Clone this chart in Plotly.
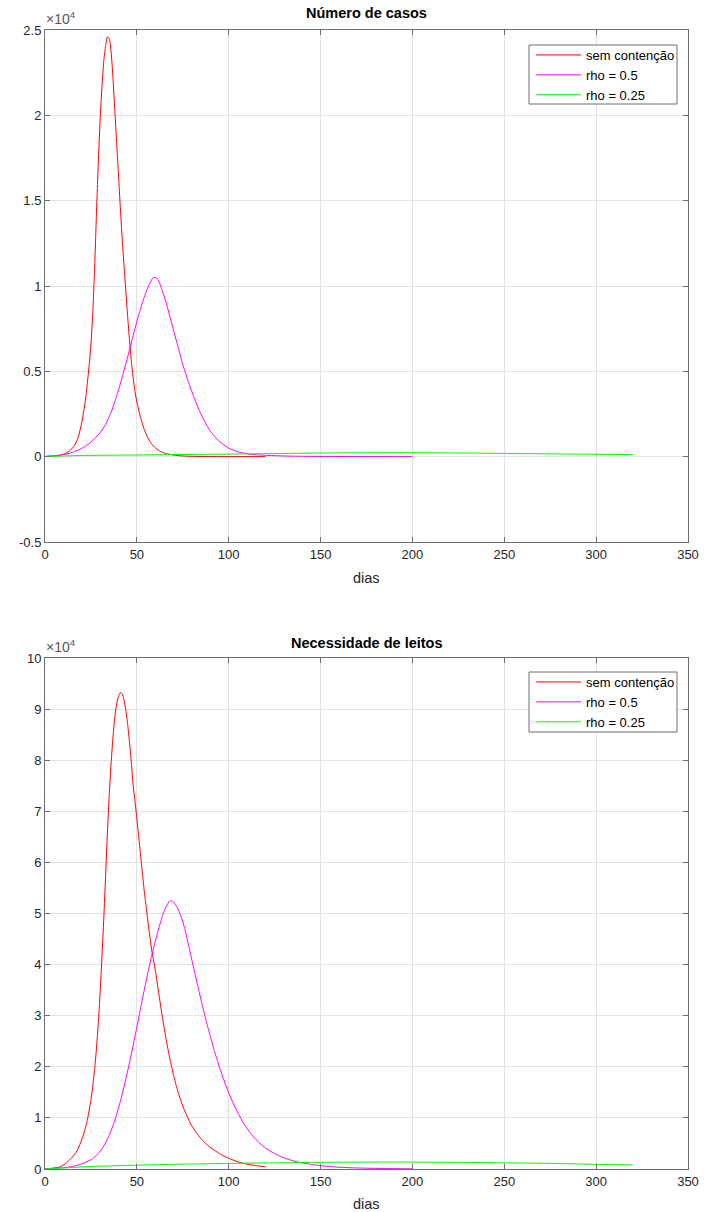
import plotly.graph_objects as go

SCALE = 1e4  # values below are read in units of 10^4

# ---------- Top panel: "Número de casos" ----------
casos_sem_x = [0, 4, 8, 11, 14, 16, 18, 20, 22, 24, 25, 26, 27, 28, 29, 30, 31, 32, 33, 34, 35, 36,
               37, 38, 39, 40, 41, 42, 43, 44, 45, 46, 47, 48, 49, 50, 52, 54, 56, 58, 60, 63, 66, 70,
               75, 80, 90, 100, 120]
casos_sem_y = [0.001, 0.003, 0.008, 0.018, 0.04, 0.065, 0.11, 0.20, 0.33, 0.53, 0.66, 0.84, 1.10, 1.42,
               1.72, 1.97, 2.17, 2.32, 2.41, 2.46, 2.45, 2.37, 2.22, 2.03, 1.84, 1.65, 1.46, 1.28, 1.12,
               0.97, 0.82, 0.68, 0.56, 0.46, 0.38, 0.32, 0.23, 0.16, 0.11, 0.075, 0.052, 0.03, 0.018,
               0.009, 0.004, 0.002, 0.0008, 0.0004, 0.0002]

casos_r05_x = [0, 5, 10, 15, 20, 25, 30, 33, 36, 39, 42, 45, 48, 51, 54, 57, 59, 61, 63, 66, 69, 72,
               75, 78, 81, 84, 87, 90, 93, 96, 100, 105, 110, 115, 120, 130, 140, 160, 200]
casos_r05_y = [0.002, 0.005, 0.012, 0.025, 0.048, 0.085, 0.14, 0.19, 0.26, 0.355, 0.465, 0.585, 0.71,
               0.83, 0.935, 1.015, 1.05, 1.045, 1.00, 0.90, 0.78, 0.66, 0.54, 0.44, 0.35, 0.27, 0.205,
               0.15, 0.11, 0.08, 0.05, 0.028, 0.017, 0.011, 0.008, 0.004, 0.002, 0.001, 0.0003]

casos_r025_x = [0, 10, 20, 40, 60, 80, 100, 130, 160, 190, 220, 250, 280, 300, 320]
casos_r025_y = [0.0005, 0.004, 0.007, 0.009, 0.011, 0.013, 0.015, 0.019, 0.022, 0.023, 0.022, 0.019,
                0.016, 0.014, 0.012]

# ---------- Bottom panel: "Necessidade de leitos" ----------
leitos_sem_x = [0, 4, 8, 11, 14, 17, 19, 21, 23, 25, 26, 27, 28, 29, 30, 31, 32, 33, 34, 35, 36, 37,
                38, 39, 40, 41, 42, 43, 44, 45, 46, 47, 48, 49, 50, 51, 52, 53, 54, 55, 56, 58, 60, 62,
                64, 66, 68, 70, 72, 74, 76, 78, 80, 83, 86, 89, 92, 96, 100, 105, 110, 115, 120]
leitos_sem_y = [0.005, 0.015, 0.04, 0.10, 0.20, 0.33, 0.48, 0.68, 0.95, 1.35, 1.62, 1.95, 2.35, 2.85,
                3.45, 4.15, 4.90, 5.75, 6.60, 7.35, 7.95, 8.45, 8.85, 9.10, 9.25, 9.32, 9.30, 9.18,
                8.98, 8.70, 8.35, 7.95, 7.50, 7.20, 6.85, 6.50, 6.15, 5.80, 5.45, 5.15, 4.85, 4.30,
                3.90, 3.42, 2.95, 2.52, 2.15, 1.83, 1.56, 1.33, 1.14, 0.98, 0.84, 0.68, 0.55, 0.45,
                0.37, 0.28, 0.21, 0.14, 0.095, 0.065, 0.045]

leitos_r05_x = [0, 5, 10, 15, 20, 25, 29, 32, 35, 38, 41, 44, 46, 48, 50, 52, 54, 56, 58, 60, 62, 64,
                66, 68, 70, 72, 74, 76, 78, 80, 82, 84, 86, 88, 90, 92, 94, 96, 98, 100, 102, 105, 108,
                111, 114, 117, 120, 124, 128, 132, 136, 140, 145, 150, 160, 170, 185, 200]
leitos_r05_y = [0.005, 0.012, 0.025, 0.05, 0.10, 0.18, 0.30, 0.45, 0.66, 0.95, 1.32, 1.76, 2.08, 2.42,
                2.78, 3.14, 3.50, 3.84, 4.16, 4.45, 4.72, 4.96, 5.14, 5.25, 5.22, 5.12, 4.95, 4.71, 4.40,
                4.08, 3.76, 3.45, 3.15, 2.86, 2.59, 2.34, 2.10, 1.88, 1.68, 1.49, 1.32, 1.10, 0.90, 0.74,
                0.61, 0.50, 0.41, 0.32, 0.25, 0.195, 0.15, 0.12, 0.09, 0.065, 0.035, 0.02, 0.009, 0.004]

leitos_r025_x = [0, 10, 20, 35, 50, 75, 100, 125, 150, 175, 200, 225, 250, 275, 300, 320]
leitos_r025_y = [0.002, 0.02, 0.04, 0.06, 0.075, 0.095, 0.11, 0.12, 0.13, 0.135, 0.135, 0.13, 0.12,
                 0.11, 0.09, 0.08]

series_names = ["sem contenção", "rho = 0.5", "rho = 0.25"]
series_colors = ["#ff0000", "#ff00ff", "#00ff00"]

x_ticks = [0, 50, 100, 150, 200, 250, 300, 350]
top_y_ticks = [-0.5, 0, 0.5, 1, 1.5, 2, 2.5]
top_y_labels = ["-0.5", "0", "0.5", "1", "1.5", "2", "2.5"]
bot_y_ticks = [0, 1, 2, 3, 4, 5, 6, 7, 8, 9, 10]
bot_y_labels = [str(v) for v in bot_y_ticks]

W, H = 705, 1212
FONT = "Liberation Sans, Arial, Helvetica, sans-serif"
TXT = "#262626"
AX = "#6e6e6e"
GRID = "#e3e3e3"


def px_x(p):
    return p / W


def px_y(p):
    return 1 - p / H


fig = go.Figure()

top_data = [(casos_sem_x, casos_sem_y), (casos_r05_x, casos_r05_y), (casos_r025_x, casos_r025_y)]
bot_data = [(leitos_sem_x, leitos_sem_y), (leitos_r05_x, leitos_r05_y), (leitos_r025_x, leitos_r025_y)]

for (xs, ys), name, col in zip(top_data, series_names, series_colors):
    fig.add_trace(go.Scatter(x=xs, y=[v * SCALE for v in ys], mode="lines", name=name,
                             line=dict(color=col, width=1, shape="spline", smoothing=0.5),
                             xaxis="x", yaxis="y", legend="legend"))
for (xs, ys), name, col in zip(bot_data, series_names, series_colors):
    fig.add_trace(go.Scatter(x=xs, y=[v * SCALE for v in ys], mode="lines", name=name,
                             line=dict(color=col, width=1, shape="spline", smoothing=0.5),
                             xaxis="x2", yaxis="y2", legend="legend2"))

xdom = [px_x(45), px_x(688)]
common_axis = dict(showline=True, linecolor=AX, linewidth=1, mirror="ticks", ticks="inside",
                   ticklen=5, tickcolor=AX, tickwidth=1, showgrid=True, gridcolor=GRID,
                   gridwidth=1, zeroline=False, automargin=False,
                   tickfont=dict(family=FONT, size=13, color=TXT))

legend_common = dict(xanchor="left", yanchor="top", bgcolor="rgba(0,0,0,0)", borderwidth=0,
                     font=dict(family=FONT, size=13, color="#000000"), itemwidth=45,
                     tracegroupgap=0)

fig.update_layout(
    width=W, height=H,
    margin=dict(l=0, r=0, t=0, b=0),
    paper_bgcolor="white", plot_bgcolor="white",
    font=dict(family=FONT, size=13, color=TXT),
    xaxis=dict(domain=xdom, anchor="y", range=[0, 350], tickvals=x_ticks, **common_axis),
    yaxis=dict(domain=[px_y(542), px_y(30)], anchor="x", range=[-0.5 * SCALE, 2.5 * SCALE],
               tickvals=[v * SCALE for v in top_y_ticks], ticktext=top_y_labels, **common_axis),
    xaxis2=dict(domain=xdom, anchor="y2", range=[0, 350], tickvals=x_ticks, **common_axis),
    yaxis2=dict(domain=[px_y(1169), px_y(658)], anchor="x2", range=[0, 10 * SCALE],
                tickvals=[v * SCALE for v in bot_y_ticks], ticktext=bot_y_labels, **common_axis),
    legend=dict(x=px_x(531), y=px_y(40), **legend_common),
    legend2=dict(x=px_x(531), y=px_y(667), **legend_common),
    showlegend=True,
    shapes=[
        dict(type="rect", xref="paper", yref="paper", x0=px_x(529), x1=px_x(677),
             y0=px_y(104), y1=px_y(45), line=dict(color=AX, width=1), fillcolor="white",
             layer="above"),
        dict(type="rect", xref="paper", yref="paper", x0=px_x(529), x1=px_x(677),
             y0=px_y(732), y1=px_y(672), line=dict(color=AX, width=1), fillcolor="white",
             layer="above"),
    ],
)

annotations = [
    dict(text="<b>Número de casos</b>", x=px_x(366.5), y=px_y(13), xref="paper", yref="paper",
         xanchor="center", yanchor="middle", showarrow=False,
         font=dict(family=FONT, size=14.5, color="#000000")),
    dict(text="<b>Necessidade de leitos</b>", x=px_x(366.5), y=px_y(643), xref="paper", yref="paper",
         xanchor="center", yanchor="middle", showarrow=False,
         font=dict(family=FONT, size=14.5, color="#000000")),
    dict(text="dias", x=px_x(366.5), y=px_y(578), xref="paper", yref="paper",
         xanchor="center", yanchor="middle", showarrow=False,
         font=dict(family=FONT, size=14.5, color=TXT)),
    dict(text="dias", x=px_x(366.5), y=px_y(1204), xref="paper", yref="paper",
         xanchor="center", yanchor="middle", showarrow=False,
         font=dict(family=FONT, size=14.5, color=TXT)),
    dict(text="×10<sup>4</sup>", x=px_x(44), y=px_y(29), xref="paper", yref="paper",
         xanchor="left", yanchor="bottom", showarrow=False,
         font=dict(family=FONT, size=14, color="#555555")),
    dict(text="×10<sup>4</sup>", x=px_x(44), y=px_y(657), xref="paper", yref="paper",
         xanchor="left", yanchor="bottom", showarrow=False,
         font=dict(family=FONT, size=14, color="#555555")),
]
fig.update_layout(annotations=annotations)

fig.write_html("out.html")
